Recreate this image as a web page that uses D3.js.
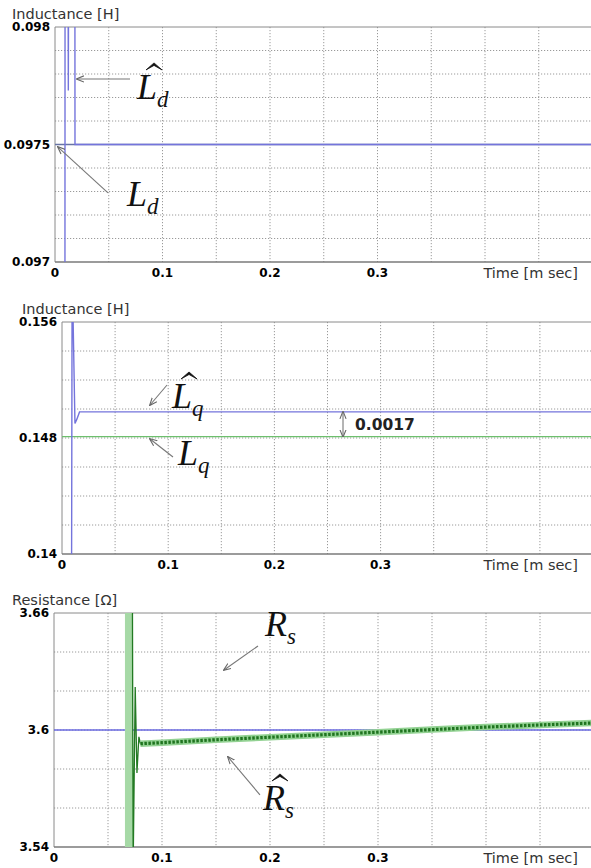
<!DOCTYPE html>
<html>
<head>
<meta charset="utf-8">
<script src="https://cdn.jsdelivr.net/npm/d3@7/dist/d3.min.js"></script>
<style>
body { margin: 0; background: #fff; }
svg { display: block; font-family: "DejaVu Sans", sans-serif; }
</style>
</head>
<body>
<svg id="chart" width="591" height="868"></svg>
<script>
// shared time axis (m sec)
const xTickVals = [0, 0.1, 0.2, 0.3];
const xTickLabels = ['0', '0.1', '0.2', '0.3'];
const xGridVals = [0.05, 0.1, 0.15, 0.2, 0.25, 0.3, 0.35, 0.4, 0.45, 0.5];

// panel 1 : d-axis inductance
const ldTickVals = [0.097, 0.0975, 0.098];
const ldTickLabels = ['0.097', '0.0975', '0.098'];
const ldTrueT = [0, 0.5];
const ldTrueV = [0.0975, 0.0975];
const ldHatT = [0.0092, 0.0094, 0.0118, 0.0124, 0.0130, 0.0184, 0.0186, 0.5];
const ldHatV = [0.0960, 0.0990, 0.0990, 0.09773, 0.0990, 0.0990, 0.0975, 0.0975];

// panel 2 : q-axis inductance
const lqTickVals = [0.14, 0.148, 0.156];
const lqTickLabels = ['0.14', '0.148', '0.156'];
const lqTrueT = [0, 0.5];
const lqTrueV = [0.1481, 0.1481];
const lqHatT = [0.0090, 0.0095, 0.0100, 0.0122, 0.0140, 0.0165, 0.5];
const lqHatV = [0.1380, 0.1580, 0.1580, 0.1490, 0.1493, 0.1498, 0.1498];

// panel 3 : stator resistance
const rsTickVals = [3.54, 3.6, 3.66];
const rsTickLabels = ['3.54', '3.6', '3.66'];
const rsTrueT = [0, 0.5];
const rsTrueV = [3.6, 3.6];
const rsOscBand = [0.0657, 0.0731];
const rsSpikeT = [0.0726, 0.0733, 0.0752, 0.0768, 0.0786, 0.0800];
const rsSpikeV = [3.670, 3.530, 3.622, 3.578, 3.5965, 3.5930];
const rsHatT = [0.08, 0.10, 0.15, 0.20, 0.25, 0.30, 0.35, 0.40, 0.45, 0.50];
const rsHatV = [3.5930, 3.5935, 3.5950, 3.5963, 3.5976, 3.5989, 3.6002, 3.6015, 3.6026, 3.6036];

const svg = d3.select('#chart');

const defs = svg.append('defs');
defs.append('marker')
    .attr('id', 'arrow')
    .attr('viewBox', '0 0 10 10')
    .attr('refX', 9).attr('refY', 5)
    .attr('markerWidth', 7).attr('markerHeight', 7)
    .attr('orient', 'auto-start-reverse')
  .append('path')
    .attr('d', 'M0,1 L10,5 L0,9')
    .attr('fill', 'none')
    .attr('stroke', '#666')
    .attr('stroke-width', 1.4);

const zip = (ts, vs) => ts.map((t, i) => [t, vs[i]]);

const drawPanel = p => {
    const g = svg.append('g');
    const x = d3.scaleLinear().domain([0, 0.5]).range([p.left, p.left + p.pxPerMs * 0.5]);
    const y = d3.scaleLinear().domain(p.yDomain).range([p.bottom, p.top]);

    defs.append('clipPath').attr('id', 'clip-' + p.id)
      .append('rect')
        .attr('x', p.left).attr('y', p.top)
        .attr('width', 591 - p.left).attr('height', p.bottom - p.top);

    // dotted grid
    g.append('g').selectAll('line').data(y.ticks(p.gridCount).slice(1, -1))
      .enter().append('line')
        .attr('x1', p.left).attr('x2', 591)
        .attr('y1', d => y(d)).attr('y2', d => y(d))
        .attr('stroke', '#9a9a9a').attr('stroke-dasharray', '1.2,1.8');
    g.append('g').selectAll('line').data(xGridVals)
      .enter().append('line')
        .attr('x1', d => x(d)).attr('x2', d => x(d))
        .attr('y1', p.top).attr('y2', p.bottom)
        .attr('stroke', '#9a9a9a').attr('stroke-dasharray', '1.2,1.8');

    // frame
    g.append('line').attr('x1', p.left).attr('x2', 591).attr('y1', p.top).attr('y2', p.top)
        .attr('stroke', '#8a8a8a');
    g.append('line').attr('x1', p.left).attr('x2', p.left).attr('y1', p.top).attr('y2', p.bottom)
        .attr('stroke', '#8a8a8a');
    g.append('line').attr('x1', p.left).attr('x2', 591).attr('y1', p.bottom).attr('y2', p.bottom)
        .attr('stroke', '#7a7a7a').attr('stroke-width', 1.3);

    // tick labels
    g.append('g').selectAll('text').data(p.yTickVals)
      .enter().append('text')
        .attr('x', p.left - 5).attr('y', d => y(d))
        .attr('dy', '0.36em')
        .attr('text-anchor', 'end')
        .attr('font-weight', 'bold').attr('font-size', 12)
        .text((d, i) => p.yTickLabels[i]);
    g.append('g').selectAll('text').data(xTickVals)
      .enter().append('text')
        .attr('x', d => x(d)).attr('y', p.bottom + 11)
        .attr('dy', '0.36em')
        .attr('text-anchor', 'middle')
        .attr('font-weight', 'bold').attr('font-size', 12)
        .text((d, i) => xTickLabels[i]);

    g.append('text')
        .attr('x', p.titleX).attr('y', p.top - 8)
        .attr('font-size', 14.5).attr('fill', '#333')
        .text(p.title);
    g.append('text')
        .attr('x', 578).attr('y', p.bottom + 11)
        .attr('dy', '0.36em')
        .attr('text-anchor', 'end')
        .attr('font-size', 14.5).attr('fill', '#333')
        .text('Time [m sec]');

    const plot = g.append('g').attr('clip-path', 'url(#clip-' + p.id + ')');
    const line = d3.line().x(d => x(d[0])).y(d => y(d[1]));
    return {g, plot, x, y, line};
};

const arrow = (P, from, to, both) => {
    P.g.append('line')
        .attr('x1', P.x(from[0])).attr('y1', P.y(from[1]))
        .attr('x2', P.x(to[0])).attr('y2', P.y(to[1]))
        .attr('stroke', '#777').attr('stroke-width', 1.1)
        .attr('marker-end', 'url(#arrow)')
        .attr('marker-start', both ? 'url(#arrow)' : null);
};

const mathLabel = (P, at, letter, sub, hat) => {
    const px = P.x(at[0]), py = P.y(at[1]);
    const t = P.g.append('text')
        .attr('x', px).attr('y', py)
        .attr('font-family', '"Liberation Serif", "DejaVu Serif", serif')
        .attr('font-style', 'italic')
        .attr('font-size', 36)
        .attr('fill', '#111');
    t.append('tspan').text(letter);
    t.append('tspan').attr('font-size', 23).attr('dy', 8).text(sub);
    if (hat) {
        // circumflex drawn above the capital letter
        P.g.append('path')
            .attr('d', `M${px + 9},${py - 29} L${px + 17},${py - 36} L${px + 25},${py - 29}`
                + ` L${px + 17},${py - 33.5} Z`)
            .attr('fill', '#111')
            .attr('stroke', '#111').attr('stroke-width', 0.8)
            .attr('stroke-linejoin', 'round');
    }
};

// ---- panel 1
const P1 = drawPanel({id: 'ld', left: 55, top: 27, bottom: 262, pxPerMs: 1075,
    yDomain: [0.097, 0.098], gridCount: 10, yTickVals: ldTickVals, yTickLabels: ldTickLabels,
    title: 'Inductance [H]', titleX: 12});
P1.plot.append('path').datum(zip(ldTrueT, ldTrueV))
    .attr('d', P1.line).attr('fill', 'none').attr('stroke', '#6874a4').attr('stroke-width', 1.3);
P1.plot.append('path').datum(zip(ldHatT, ldHatV))
    .attr('d', P1.line).attr('fill', 'none').attr('stroke', '#7474dc').attr('stroke-width', 1.4);
arrow(P1, [0.0698, 0.097779], [0.0205, 0.097779]);
mathLabel(P1, [0.0763, 0.097694], 'L', 'd', true);
arrow(P1, [0.0493, 0.097294], [0.0028, 0.097489]);
mathLabel(P1, [0.067, 0.097238], 'L', 'd', false);

// ---- panel 2
const P2 = drawPanel({id: 'lq', left: 62, top: 322, bottom: 554, pxPerMs: 1062,
    yDomain: [0.14, 0.156], gridCount: 8, yTickVals: lqTickVals, yTickLabels: lqTickLabels,
    title: 'Inductance [H]', titleX: 22});
P2.plot.append('path').datum(zip(lqTrueT, lqTrueV))
    .attr('d', P2.line).attr('fill', 'none').attr('stroke', '#6dbf6d').attr('stroke-width', 1.3);
P2.plot.append('path').datum(zip(lqHatT, lqHatV))
    .attr('d', P2.line).attr('fill', 'none').attr('stroke', '#7474dc').attr('stroke-width', 1.4);
arrow(P2, [0.0989, 0.151655], [0.0829, 0.150276]);
mathLabel(P2, [0.1036, 0.150069], 'L', 'q', true);
arrow(P2, [0.1045, 0.146690], [0.0829, 0.147931]);
mathLabel(P2, [0.1092, 0.146138], 'L', 'q', false);
arrow(P2, [0.2646, 0.1481], [0.2646, 0.1498], true);
P2.g.append('text')
    .attr('x', P2.x(0.2759)).attr('y', P2.y(0.14895))
    .attr('dy', '0.36em')
    .attr('font-weight', 'bold').attr('font-size', 15.5)
    .attr('fill', '#222')
    .text('0.0017');

// ---- panel 3
const P3 = drawPanel({id: 'rs', left: 54, top: 613, bottom: 847, pxPerMs: 1080,
    yDomain: [3.54, 3.66], gridCount: 6, yTickVals: rsTickVals, yTickLabels: rsTickLabels,
    title: 'Resistance [\u03A9]', titleX: 12});
P3.plot.append('path').datum(zip(rsTrueT, rsTrueV))
    .attr('d', P3.line).attr('fill', 'none').attr('stroke', '#6a6ae0').attr('stroke-width', 1.3);
P3.plot.append('rect')
    .attr('x', P3.x(rsOscBand[0])).attr('width', P3.x(rsOscBand[1]) - P3.x(rsOscBand[0]))
    .attr('y', 613).attr('height', 847 - 613)
    .attr('fill', '#a6d9a6');
P3.plot.append('path').datum(zip(rsSpikeT, rsSpikeV))
    .attr('d', P3.line).attr('fill', 'none').attr('stroke', '#237a23').attr('stroke-width', 1.3);
P3.plot.append('path').datum(zip(rsHatT, rsHatV))
    .attr('d', P3.line).attr('fill', 'none').attr('stroke', '#93d293').attr('stroke-width', 6.5);
P3.plot.append('path').datum(zip(rsHatT, rsHatV))
    .attr('d', P3.line).attr('fill', 'none').attr('stroke', '#1f741f').attr('stroke-width', 3.2)
    .attr('stroke-dasharray', '2.5,1.5');
arrow(P3, [0.1889, 3.6431], [0.1574, 3.6308]);
mathLabel(P3, [0.1954, 3.6482], 'R', 's', false);
arrow(P3, [0.1907, 3.5667], [0.1611, 3.5862]);
mathLabel(P3, [0.1935, 3.5590], 'R', 's', true);
</script>
</body>
</html>
